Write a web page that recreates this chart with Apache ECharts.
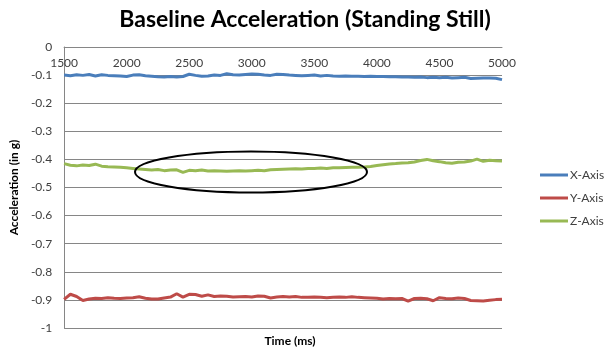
<!DOCTYPE html>
<html>
<head>
<meta charset="utf-8">
<script src="https://cdn.jsdelivr.net/npm/echarts@6/dist/echarts.min.js"></script>
<style>html,body{margin:0;padding:0;background:#fff}#c{width:610px;height:348px}</style>
</head>
<body>
<div id="c"></div>
<script>
const times = [1500,1550,1600,1650,1700,1750,1800,1850,1900,1950,2000,2050,2100,2150,2200,2250,2300,2350,2400,2450,2500,2550,2600,2650,2700,2750,2800,2850,2900,2950,3000,3050,3100,3150,3200,3250,3300,3350,3400,3450,3500,3550,3600,3650,3700,3750,3800,3850,3900,3950,4000,4050,4100,4150,4200,4250,4300,4350,4400,4450,4500,4550,4600,4650,4700,4750,4800,4850,4900,4950,5000];
const xAxisVals = [-0.100,-0.102,-0.099,-0.101,-0.098,-0.103,-0.099,-0.101,-0.102,-0.103,-0.105,-0.100,-0.099,-0.102,-0.104,-0.106,-0.107,-0.105,-0.107,-0.105,-0.097,-0.101,-0.104,-0.103,-0.100,-0.101,-0.095,-0.099,-0.100,-0.098,-0.096,-0.097,-0.100,-0.101,-0.097,-0.098,-0.100,-0.101,-0.102,-0.101,-0.100,-0.103,-0.101,-0.103,-0.104,-0.103,-0.104,-0.104,-0.105,-0.104,-0.105,-0.105,-0.106,-0.106,-0.107,-0.107,-0.108,-0.107,-0.109,-0.108,-0.109,-0.108,-0.110,-0.109,-0.108,-0.112,-0.111,-0.110,-0.110,-0.111,-0.116];
const yAxisVals = [-0.898,-0.880,-0.888,-0.902,-0.897,-0.894,-0.895,-0.892,-0.894,-0.895,-0.893,-0.892,-0.889,-0.894,-0.897,-0.897,-0.893,-0.890,-0.878,-0.890,-0.880,-0.881,-0.887,-0.882,-0.888,-0.886,-0.887,-0.890,-0.889,-0.888,-0.890,-0.886,-0.887,-0.893,-0.890,-0.888,-0.890,-0.888,-0.891,-0.891,-0.890,-0.891,-0.892,-0.891,-0.890,-0.891,-0.889,-0.891,-0.892,-0.893,-0.894,-0.897,-0.895,-0.896,-0.895,-0.904,-0.895,-0.894,-0.896,-0.903,-0.892,-0.895,-0.896,-0.893,-0.895,-0.902,-0.903,-0.904,-0.901,-0.899,-0.898];
const zAxisVals = [-0.415,-0.421,-0.423,-0.420,-0.422,-0.417,-0.424,-0.426,-0.427,-0.428,-0.430,-0.432,-0.434,-0.436,-0.438,-0.436,-0.440,-0.438,-0.437,-0.446,-0.439,-0.440,-0.438,-0.441,-0.440,-0.441,-0.442,-0.441,-0.440,-0.441,-0.440,-0.439,-0.440,-0.437,-0.436,-0.435,-0.434,-0.433,-0.434,-0.432,-0.432,-0.431,-0.432,-0.430,-0.430,-0.429,-0.428,-0.428,-0.427,-0.425,-0.422,-0.419,-0.416,-0.415,-0.413,-0.412,-0.409,-0.404,-0.400,-0.405,-0.408,-0.412,-0.414,-0.410,-0.409,-0.406,-0.399,-0.407,-0.403,-0.405,-0.406];
const seriesNames = ['X-Axis','Y-Axis','Z-Axis'];
const seriesColors = ['#4a7ebb','#be4b48','#98b954'];
const chartTitle = 'Baseline Acceleration (Standing Still)';
const xTitle = 'Time (ms)';
const yTitle = 'Acceleration (in g)';

const FONT = 'Lato';
const chart = echarts.init(document.getElementById('c'), null, {renderer:'canvas'});
const allVals = [xAxisVals, yAxisVals, zAxisVals];
chart.setOption({
  animation: false,
  title: [
    {text: chartTitle, left: 'center', top: 3, textStyle: {fontFamily: FONT, fontSize: 23, fontWeight: 'bold', color: '#000'}},
    {text: xTitle, left: 285, top: 330, textAlign: 'center', textStyle: {fontFamily: FONT, fontSize: 12, fontWeight: 'bold', color: '#000'}}
  ],
  grid: {left: 63, right: 108, top: 47, bottom: 20, containLabel: false},
  legend: {
    orient: 'vertical', left: 535, top: 164, itemWidth: 28, itemHeight: 3, itemGap: 11,
    icon: 'rect',
    textStyle: {fontFamily: FONT, fontSize: 12, color: '#404040', padding: [0,0,0,-3]},
    data: seriesNames
  },
  xAxis: {
    type: 'value', min: 1500, max: 5000, interval: 500, position: 'top',
    axisLine: {show: true, onZero: false, lineStyle: {color: '#868686', width: 1}},
    axisTick: {show: false},
    splitLine: {show: false},
    axisLabel: {inside: true, margin: 10, fontFamily: FONT, fontSize: 12, color: '#404040',
      formatter: v => String(v)}
  },
  yAxis: {
    type: 'value', min: -1, max: 0, interval: 0.1,
    name: yTitle, nameLocation: 'middle', nameRotate: 90, nameGap: 34,
    nameTextStyle: {fontFamily: FONT, fontSize: 12, fontWeight: 'bold', color: '#000'},
    axisLine: {show: true, lineStyle: {color: '#868686', width: 1}},
    axisTick: {show: false},
    splitLine: {show: true, lineStyle: {color: '#868686', width: 1}},
    axisLabel: {margin: 12, fontFamily: FONT, fontSize: 12, color: '#404040',
      formatter: v => String(parseFloat(v.toFixed(1)))}
  },
  series: seriesNames.map((n, i) => ({
    name: n, type: 'line', symbol: 'none', smooth: false,
    data: times.map((t, k) => [t, allVals[i][k]]),
    lineStyle: {color: seriesColors[i], width: 3},
    itemStyle: {color: seriesColors[i]}
  })),
  graphic: [{
    type: 'ellipse', shape: {cx: 251, cy: 172, rx: 116, ry: 20.5},
    style: {fill: 'none', stroke: '#000', lineWidth: 2}, z: 100
  }]
});
</script>
</body>
</html>
